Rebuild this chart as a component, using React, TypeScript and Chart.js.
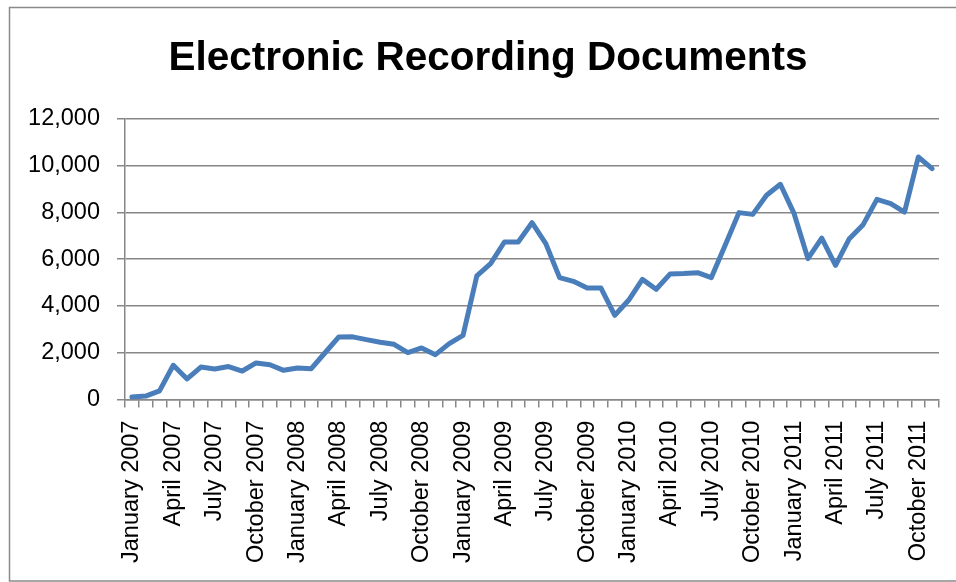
import React, { useEffect, useRef } from "react";
import { Chart, registerables } from "chart.js";

Chart.register(...registerables);

// Month names and years used for the monthly category axis
const MONTH_NAMES = [
  "January", "February", "March", "April", "May", "June",
  "July", "August", "September", "October", "November", "December",
];
const YEARS = [2007, 2008, 2009, 2010, 2011];
const LAST_MONTH_2011 = 11; // series runs through November 2011

// Electronically recorded documents per month, January 2007 – November 2011
const DOCUMENTS = [
  110, 150, 370, 1465, 880, 1390, 1310, 1410, 1220, 1565, 1490, 1250,
  1350, 1320, 2000, 2675, 2680, 2560, 2450, 2360, 2005, 2205, 1920, 2390,
  2745, 5280, 5805, 6730, 6730, 7555, 6660, 5210, 5050, 4765, 4765, 3600,
  4240, 5135, 4710, 5360, 5380, 5420, 5210, 6590, 7985, 7910, 8725, 9195,
  7940, 6020, 6900, 5735, 6870, 7470, 8550, 8370, 8010, 10360, 9860,
];

const Y_MIN = 0;
const Y_MAX = 12000;
const Y_STEP = 2000;
const LABEL_EVERY = 3; // a label on every quarter's first month

const CATEGORIES: string[] = [];
YEARS.forEach((year) => {
  MONTH_NAMES.forEach((m, i) => {
    if (year === 2011 && i >= LAST_MONTH_2011) return;
    CATEGORIES.push(`${m} ${year}`);
  });
});

const GRID = "#878787";
const FONT = "'Liberation Sans', Arial, sans-serif";

// Thin outer frame around the chart
const framePlugin = {
  id: "frame",
  beforeDraw(chart: Chart) {
    const ctx = chart.ctx;
    ctx.save();
    ctx.strokeStyle = "#8a8a8a";
    ctx.lineWidth = 1.5;
    ctx.strokeRect(9.5, 7.5, chart.width + 20, 573.5);
    ctx.restore();
  },
};

export default function App() {
  const canvasRef = useRef<HTMLCanvasElement | null>(null);

  useEffect(() => {
    document.body.style.margin = "0";
    const canvas = canvasRef.current;
    if (!canvas) return;
    const chart = new Chart(canvas, {
      type: "line",
      data: {
        labels: CATEGORIES,
        datasets: [
          {
            label: "Documents",
            data: DOCUMENTS,
            borderColor: "#4a7ebb",
            borderWidth: 5,
            pointRadius: 0,
            pointHoverRadius: 0,
            tension: 0,
            fill: false,
            borderCapStyle: "round",
            borderJoinStyle: "round",
          },
        ],
      },
      options: {
        animation: false,
        responsive: false,
        devicePixelRatio: 1,
        layout: { padding: { left: 20, right: 0, top: 0, bottom: 6 } },
        plugins: {
          legend: { display: false },
          tooltip: { enabled: false },
          title: {
            display: true,
            text: "Electronic Recording Documents",
            color: "#000000",
            font: { family: FONT, size: 40.5, weight: "bold", lineHeight: 1.2 },
            padding: { top: 35, bottom: 35 },
          },
        },
        scales: {
          x: {
            type: "category",
            offset: true,
            afterFit: (scale: any) => {
              scale.paddingRight = 17;
            },
            grid: {
              offset: true,
              drawOnChartArea: false,
              drawTicks: true,
              tickLength: 8,
              color: GRID,
              lineWidth: 1.5,
            },
            border: { display: true, color: GRID, width: 1.5 },
            ticks: {
              autoSkip: false,
              minRotation: 90,
              maxRotation: 90,
              padding: 13,
              color: "#000000",
              font: { family: FONT, size: 23.5 },
              callback: (_v: any, i: number) =>
                i % LABEL_EVERY === 0 ? CATEGORIES[i] : "",
            },
          },
          y: {
            min: Y_MIN,
            max: Y_MAX,
            afterFit: (scale: any) => {
              scale.width = 105;
            },
            grid: {
              color: GRID,
              lineWidth: 1.5,
              drawTicks: true,
              tickLength: 8,
            },
            border: { display: true, color: GRID, width: 1.5 },
            ticks: {
              stepSize: Y_STEP,
              padding: 17,
              color: "#000000",
              font: { family: FONT, size: 23.5 },
              callback: (v: any) => Number(v).toLocaleString("en-US"),
            },
          },
        },
      },
      plugins: [framePlugin],
    });
    return () => chart.destroy();
  }, []);

  return (
    <div style={{ width: 956, height: 582, background: "#ffffff" }}>
      <canvas ref={canvasRef} width={956} height={582} />
    </div>
  );
}
